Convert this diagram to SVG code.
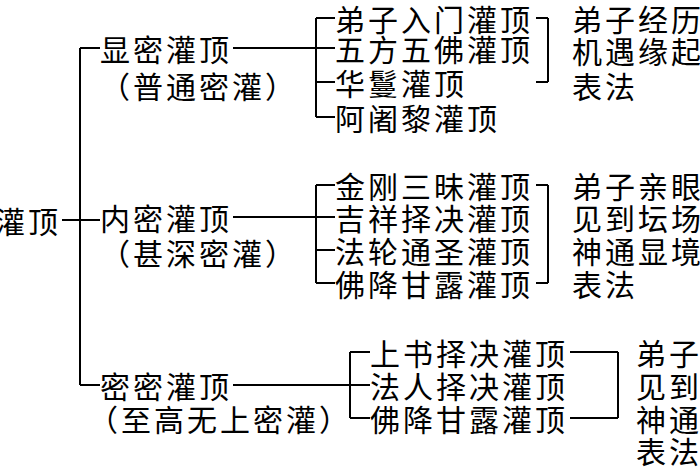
<svg xmlns="http://www.w3.org/2000/svg" width="700" height="470" viewBox="0 0 700 470">
<style>
text{font-family:"Noto Sans CJK SC",sans-serif;font-size:30px;letter-spacing:3px;fill:#000;dominant-baseline:central}
.c line{stroke:#000;stroke-width:2}
</style>
<rect width="700" height="470" fill="#fff"/>
<g class="c" id="connectors">
<line x1="62" y1="220" x2="100" y2="220"/>
<line x1="80" y1="48" x2="80" y2="385"/>
<line x1="80" y1="48" x2="100" y2="48"/>
<line x1="80" y1="385" x2="100" y2="385"/>
<line x1="233" y1="48" x2="335" y2="48"/>
<line x1="316" y1="18" x2="316" y2="117"/>
<line x1="316" y1="18" x2="335" y2="18"/><line x1="316" y1="82" x2="335" y2="82"/><line x1="316" y1="117" x2="335" y2="117"/>
<line x1="536" y1="18" x2="548" y2="18"/><line x1="536" y1="82" x2="548" y2="82"/><line x1="548" y1="18" x2="548" y2="82"/>
<line x1="233" y1="217" x2="335" y2="217"/>
<line x1="316" y1="185" x2="316" y2="283"/>
<line x1="316" y1="185" x2="335" y2="185"/><line x1="316" y1="250" x2="335" y2="250"/><line x1="316" y1="283" x2="335" y2="283"/>
<line x1="536" y1="185" x2="548" y2="185"/><line x1="536" y1="283" x2="548" y2="283"/><line x1="548" y1="185" x2="548" y2="283"/>
<line x1="233" y1="385" x2="370" y2="385"/>
<line x1="350" y1="352" x2="350" y2="418"/>
<line x1="350" y1="352" x2="370" y2="352"/><line x1="350" y1="418" x2="370" y2="418"/>
<line x1="570" y1="352" x2="618" y2="352"/><line x1="570" y1="418" x2="618" y2="418"/><line x1="618" y1="352" x2="618" y2="418"/>
</g>
<g id="root"><text x="-5" y="220">灌顶</text></g>
<g id="n1"><text x="100" y="48">显密灌顶</text><text x="100" y="85">（普通密灌）</text></g>
<g id="n1items"><text x="335" y="18">弟子入门灌顶</text><text x="335" y="48">五方五佛灌顶</text><text x="335" y="82">华鬘灌顶</text><text x="335" y="117">阿阇黎灌顶</text></g>
<g id="n1note"><text x="572" y="18">弟子经历</text><text x="572" y="50">机遇缘起</text><text x="572" y="85">表法</text></g>
<g id="n2"><text x="100" y="217">内密灌顶</text><text x="100" y="252">（甚深密灌）</text></g>
<g id="n2items"><text x="335" y="185">金刚三昧灌顶</text><text x="335" y="217">吉祥择决灌顶</text><text x="335" y="250">法轮通圣灌顶</text><text x="335" y="283">佛降甘露灌顶</text></g>
<g id="n2note"><text x="572" y="185">弟子亲眼</text><text x="572" y="217">见到坛场</text><text x="572" y="250">神通显境</text><text x="572" y="283">表法</text></g>
<g id="n3"><text x="100" y="385">密密灌顶</text><text x="88" y="418">（至高无上密灌）</text></g>
<g id="n3items"><text x="370" y="352">上书择决灌顶</text><text x="370" y="385">法人择决灌顶</text><text x="370" y="418">佛降甘露灌顶</text></g>
<g id="n3note"><text x="636" y="352">弟子</text><text x="636" y="385">见到</text><text x="636" y="418">神通</text><text x="636" y="450">表法</text></g>
</svg>
